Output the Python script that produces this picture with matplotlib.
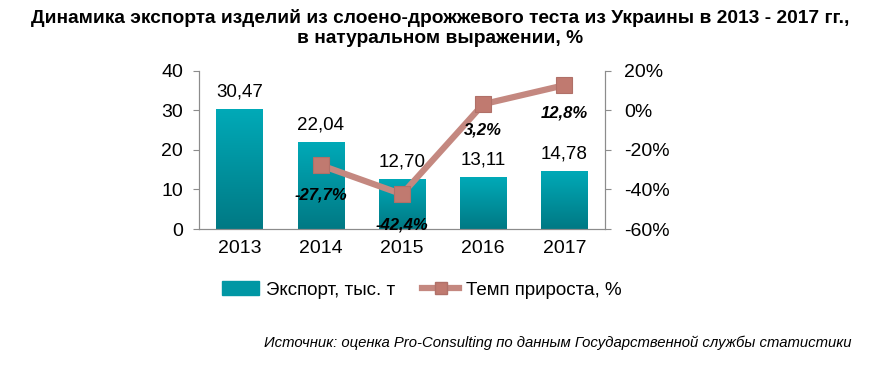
import numpy as np
import matplotlib.pyplot as plt
from matplotlib.patches import Rectangle
from matplotlib.lines import Line2D
from matplotlib.colors import LinearSegmentedColormap

plt.rcParams['font.family'] = ['Liberation Sans', 'DejaVu Sans']

# data
years = ['2013', '2014', '2015', '2016', '2017']
export = [30.47, 22.04, 12.70, 13.11, 14.78]
growth_years = ['2014', '2015', '2016', '2017']
growth = [-27.7, -42.4, 3.2, 12.8]

bar_top = '#00AAB8'
bar_bot = '#007984'
line_col = '#C48880'
mark_col = '#C07A70'
grid_col = '#8C8C8C'

fig = plt.figure(figsize=(8.75, 3.69), dpi=100)
ax = fig.add_axes([0.2274, 0.3794, 0.464, 0.4282])
ax2 = ax.twinx()

x = np.arange(len(years))
w = 0.57
cmap = LinearSegmentedColormap.from_list('b', [bar_bot, bar_top])
grad = np.linspace(0, 1, 256).reshape(-1, 1)
bars = ax.bar(x, export, width=w, color=bar_top, zorder=2)
for b in bars:
    b.set_facecolor('none')
    b.set_edgecolor('none')
    x0, y0 = b.get_x(), b.get_y()
    im = ax.imshow(grad, cmap=cmap, origin='lower', aspect='auto',
                   extent=[x0, x0 + b.get_width(), y0, y0 + b.get_height()], zorder=2)
    im.set_clip_path(b)

for xi, v in zip(x, export):
    ax.text(xi, v + 2.1, f'{v:.2f}'.replace('.', ','), ha='center', va='bottom', fontsize=13.5)

ax.set_xlim(-0.5, 4.5)
ax.set_ylim(0, 40)
ax.set_yticks([0, 10, 20, 30, 40])
ax.set_xticks(x)
ax.set_xticklabels(years)
ax.tick_params(axis='both', labelsize=14, color=grid_col, length=4)
ax.tick_params(axis='y', pad=7.5)
ax.tick_params(axis='x', length=0, pad=8)

gx = [years.index(y) for y in growth_years]
ax2.plot(gx, growth, color=line_col, lw=4.5, zorder=3, solid_capstyle='round')
ax2.plot(gx, growth, ls='none', marker='s', ms=12, mfc=mark_col, mec='#B07068', mew=0.8, zorder=4)
ax2.set_ylim(-60, 20)
ax2.set_yticks([-60, -40, -20, 0, 20])
ax2.set_yticklabels([f'{t}%' for t in [-60, -40, -20, 0, 20]])
ax2.tick_params(axis='y', labelsize=14, color=grid_col, length=4, pad=10)

offs = [-15, -15.5, -13, -14]
for xi, v, o in zip(gx, growth, offs):
    ax2.text(xi, v + o, f'{v:.1f}%'.replace('.', ','), ha='center', va='center',
             fontsize=12, fontweight='bold', fontstyle='italic')

for a in (ax, ax2):
    a.spines['top'].set_visible(False)
    for s in ('left', 'right', 'bottom'):
        a.spines[s].set_color(grid_col)
ax.set_zorder(ax2.get_zorder() - 1)
ax.patch.set_visible(True)
ax2.patch.set_visible(False)

fig.text(0.503, 0.975, 'Динамика экспорта изделий из слоено-дрожжевого теста из Украины в 2013 - 2017 гг.,\nв натуральном выражении, %',
         ha='center', va='top', fontsize=13.8, fontweight='bold', linespacing=1.2)

h1 = Rectangle((0, 0), 1, 1, color='#0097A4')
h2 = Line2D([], [], color=line_col, lw=4.5, marker='s', ms=9, mfc=mark_col, mec='#B07068')
fig.legend([h1, h2], ['Экспорт, тыс. т', 'Темп прироста, %'], loc='center left',
           bbox_to_anchor=(0.2537, 0.214), ncol=2, frameon=False, fontsize=13.5,
           borderpad=0, borderaxespad=0,
           handlelength=2.0, handletextpad=0.37, columnspacing=1.4)

fig.text(0.973, 0.07, 'Источник: оценка Pro-Consulting по данным Государственной службы статистики',
         ha='right', va='center', fontsize=10.7, fontstyle='italic')

fig.savefig('out.png', dpi=100)
